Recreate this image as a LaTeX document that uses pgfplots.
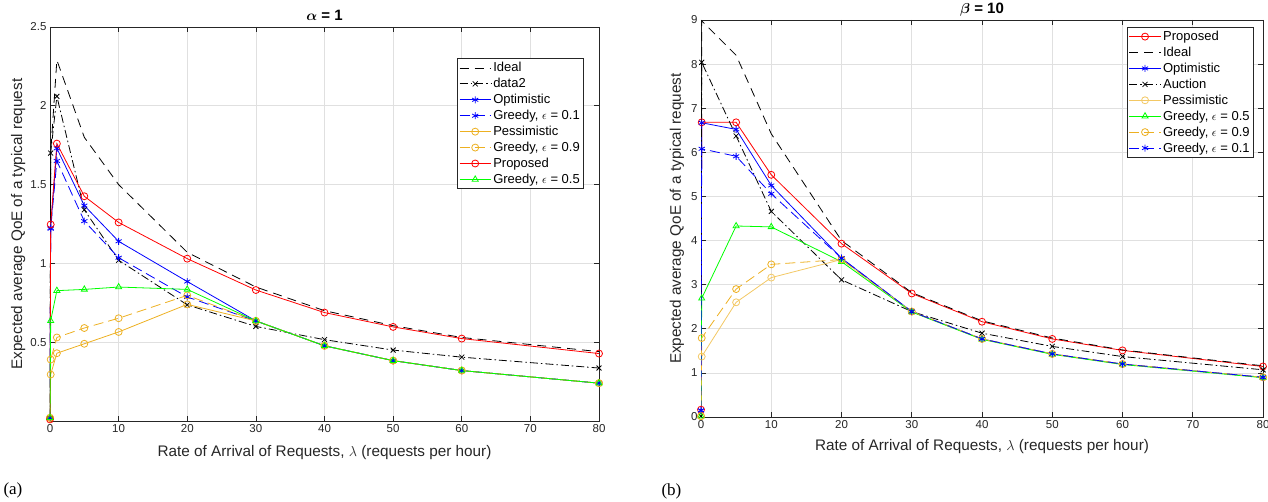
\documentclass[border=0pt]{standalone}
\usepackage{fontspec}
\setmainfont{Liberation Sans}
\newfontfamily\serifcap{Liberation Serif}
\usepackage{bm}
\usepackage{pgfplots}
\pgfplotsset{compat=1.18}
\definecolor{mgray}{rgb}{0.15,0.15,0.15}
\definecolor{morange}{rgb}{0.93,0.69,0.13}
\definecolor{mgreen}{rgb}{0,1,0}
\pgfplotsset{
  every axis title shift=0pt,
  matlab/.style={
    scale only axis,
    anchor=south west,
    xmin=0, xmax=80,
    xtick={0,10,...,80},
    grid=major,
    major grid style={color=black!12, line width=0.6pt},
    axis line style={mgray, line width=0.8pt},
    tick style={mgray, line width=0.6pt},
    tick align=inside,
    major tick length=5pt,
    ticklabel style={font=\fontsize{11.5}{13}\selectfont, text=mgray},
    /pgf/number format/assume math mode=true,
    label style={font=\fontsize{15.3}{17}\selectfont, text=mgray},
    title style={font=\fontsize{15}{17}\selectfont\bfseries, anchor=center},
    legend style={font=\fontsize{13}{15}\selectfont, draw=mgray, line width=0.8pt,
      inner sep=2pt, row sep=1pt, anchor=north east},
    legend cell align=left,
    legend image code/.code={\draw[mark repeat=2,mark phase=2] plot coordinates {(0cm,0cm) (0.55cm,0cm) (1.1cm,0cm)};},
    every axis plot/.append style={line width=0.8pt, mark size=3.5pt, mark options={solid, fill=none}},
  },
  ideal/.style={black, dash pattern=on 9pt off 6pt},
  dashdot/.style={black, dash pattern=on 8pt off 3pt on 1.5pt off 3pt, mark=x},
  gdash/.style={dash pattern=on 10pt off 5pt},
}
\begin{document}
\begin{tikzpicture}
\useasboundingbox (0,0) rectangle (1268pt,502pt);
% ---------------- (a) ----------------
\begin{axis}[matlab,
  at={(50pt,81pt)}, width=549pt, height=394pt,
  ymin=0, ymax=2.5, ytick={0.5,1,1.5,2,2.5},
  title={$\bm{\alpha}$ = 1},
  title style={at={(axis description cs:0.5,1.030)}},
  xlabel={Rate of Arrival of Requests, $\lambda$ (requests per hour)},
  xlabel style={at={(axis description cs:0.5,-0.079)}, anchor=center},
  ylabel={Expected average QoE of a typical request},
  ylabel style={at={(axis description cs:-0.058,0.5)}, anchor=center},
  legend style={at={(0.973,0.921)}},
]
\addplot[ideal] coordinates {(0,0.02)(0.1,1.7)(1,2.29)(5,1.80)(10,1.50)(20,1.07)(30,0.85)(40,0.70)(50,0.605)(60,0.53)(80,0.44)};
\addlegendentry{Ideal}
\addplot[dashdot] coordinates {(0,0.02)(0.1,1.70)(1,2.06)(5,1.34)(10,1.02)(20,0.737)(30,0.60)(40,0.516)(50,0.45)(60,0.405)(80,0.336)};
\addlegendentry{data2}
\addplot[blue, mark=asterisk] coordinates {(0,0.02)(0.1,1.226)(1,1.73)(5,1.367)(10,1.14)(20,0.885)(30,0.635)(40,0.477)(50,0.383)(60,0.32)(80,0.24)};
\addlegendentry{Optimistic}
\addplot[blue, gdash, mark=asterisk] coordinates {(0,0.02)(0.1,1.22)(1,1.65)(5,1.268)(10,1.036)(20,0.787)(30,0.635)(40,0.477)(50,0.383)(60,0.32)(80,0.24)};
\addlegendentry{Greedy, $\epsilon$ = 0.1}
\addplot[morange, mark=o] coordinates {(0,0.02)(0.1,0.295)(1,0.43)(5,0.49)(10,0.565)(20,0.74)(30,0.635)(40,0.477)(50,0.383)(60,0.32)(80,0.24)};
\addlegendentry{Pessimistic}
\addplot[morange, gdash, mark=o] coordinates {(0,0.02)(0.1,0.39)(1,0.53)(5,0.59)(10,0.652)(20,0.797)(30,0.635)(40,0.477)(50,0.383)(60,0.32)(80,0.24)};
\addlegendentry{Greedy, $\epsilon$ = 0.9}
\addplot[red, mark=o] coordinates {(0,0.01)(0.1,1.247)(1,1.76)(5,1.426)(10,1.26)(20,1.03)(30,0.831)(40,0.688)(50,0.597)(60,0.523)(80,0.428)};
\addlegendentry{Proposed}
\addplot[mgreen, mark=triangle] coordinates {(0,0.02)(0.1,0.636)(1,0.827)(5,0.835)(10,0.85)(20,0.835)(30,0.635)(40,0.477)(50,0.383)(60,0.32)(80,0.24)};
\addlegendentry{Greedy, $\epsilon$ = 0.5}
\end{axis}
% ---------------- (b) ----------------
\begin{axis}[matlab,
  at={(701pt,85pt)}, width=562pt, height=397pt,
  ymin=0, ymax=9, ytick={0,1,...,9},
  title={$\bm{\beta}$ = 10},
  title style={at={(axis description cs:0.5,1.027)}},
  xlabel={Rate of Arrival of Requests, $\lambda$ (requests per hour)},
  xlabel style={at={(axis description cs:0.5,-0.0756)}, anchor=center},
  ylabel={Expected average QoE of a typical request},
  ylabel style={at={(axis description cs:-0.043,0.5)}, anchor=center},
  legend style={at={(0.984,0.983)}},
]
\addplot[red, mark=o] coordinates {(0,0.166)(0.1,6.68)(5,6.68)(10,5.49)(20,3.93)(30,2.80)(40,2.16)(50,1.77)(60,1.51)(80,1.145)};
\addlegendentry{Proposed}
\addplot[ideal] coordinates {(0,0.02)(0.1,8.98)(5,8.2)(10,6.42)(20,4.0)(30,2.82)(40,2.18)(50,1.79)(60,1.52)(80,1.16)};
\addlegendentry{Ideal}
\addplot[blue, mark=asterisk] coordinates {(0,0.15)(0.1,6.67)(5,6.52)(10,5.25)(20,3.60)(30,2.39)(40,1.77)(50,1.43)(60,1.20)(80,0.90)};
\addlegendentry{Optimistic}
\addplot[dashdot] coordinates {(0,0.02)(0.1,8.04)(5,6.37)(10,4.66)(20,3.11)(30,2.39)(40,1.90)(50,1.60)(60,1.37)(80,1.07)};
\addlegendentry{Auction}
\addplot[morange!70, mark=o] coordinates {(0,0.02)(0.1,1.37)(5,2.60)(10,3.16)(20,3.57)(30,2.39)(40,1.77)(50,1.43)(60,1.20)(80,0.90)};
\addlegendentry{Pessimistic}
\addplot[mgreen, mark=triangle] coordinates {(0,0.02)(0.1,2.69)(5,4.33)(10,4.31)(20,3.52)(30,2.38)(40,1.76)(50,1.42)(60,1.19)(80,0.89)};
\addlegendentry{Greedy, $\epsilon$ = 0.5}
\addplot[morange, gdash, mark=o] coordinates {(0,0.02)(0.1,1.79)(5,2.90)(10,3.46)(20,3.57)(30,2.39)(40,1.77)(50,1.43)(60,1.20)(80,0.90)};
\addlegendentry{Greedy, $\epsilon$ = 0.9}
\addplot[blue, gdash, mark=asterisk] coordinates {(0,0.15)(0.1,6.08)(5,5.91)(10,5.06)(20,3.60)(30,2.39)(40,1.77)(50,1.43)(60,1.20)(80,0.90)};
\addlegendentry{Greedy, $\epsilon$ = 0.1}
\end{axis}
\node[anchor=west, font=\serifcap\fontsize{17}{19}\selectfont] at (0pt,12pt) {(a)};
\node[anchor=west, font=\serifcap\fontsize{17}{19}\selectfont] at (658pt,11pt) {(b)};
\end{tikzpicture}
\end{document}
